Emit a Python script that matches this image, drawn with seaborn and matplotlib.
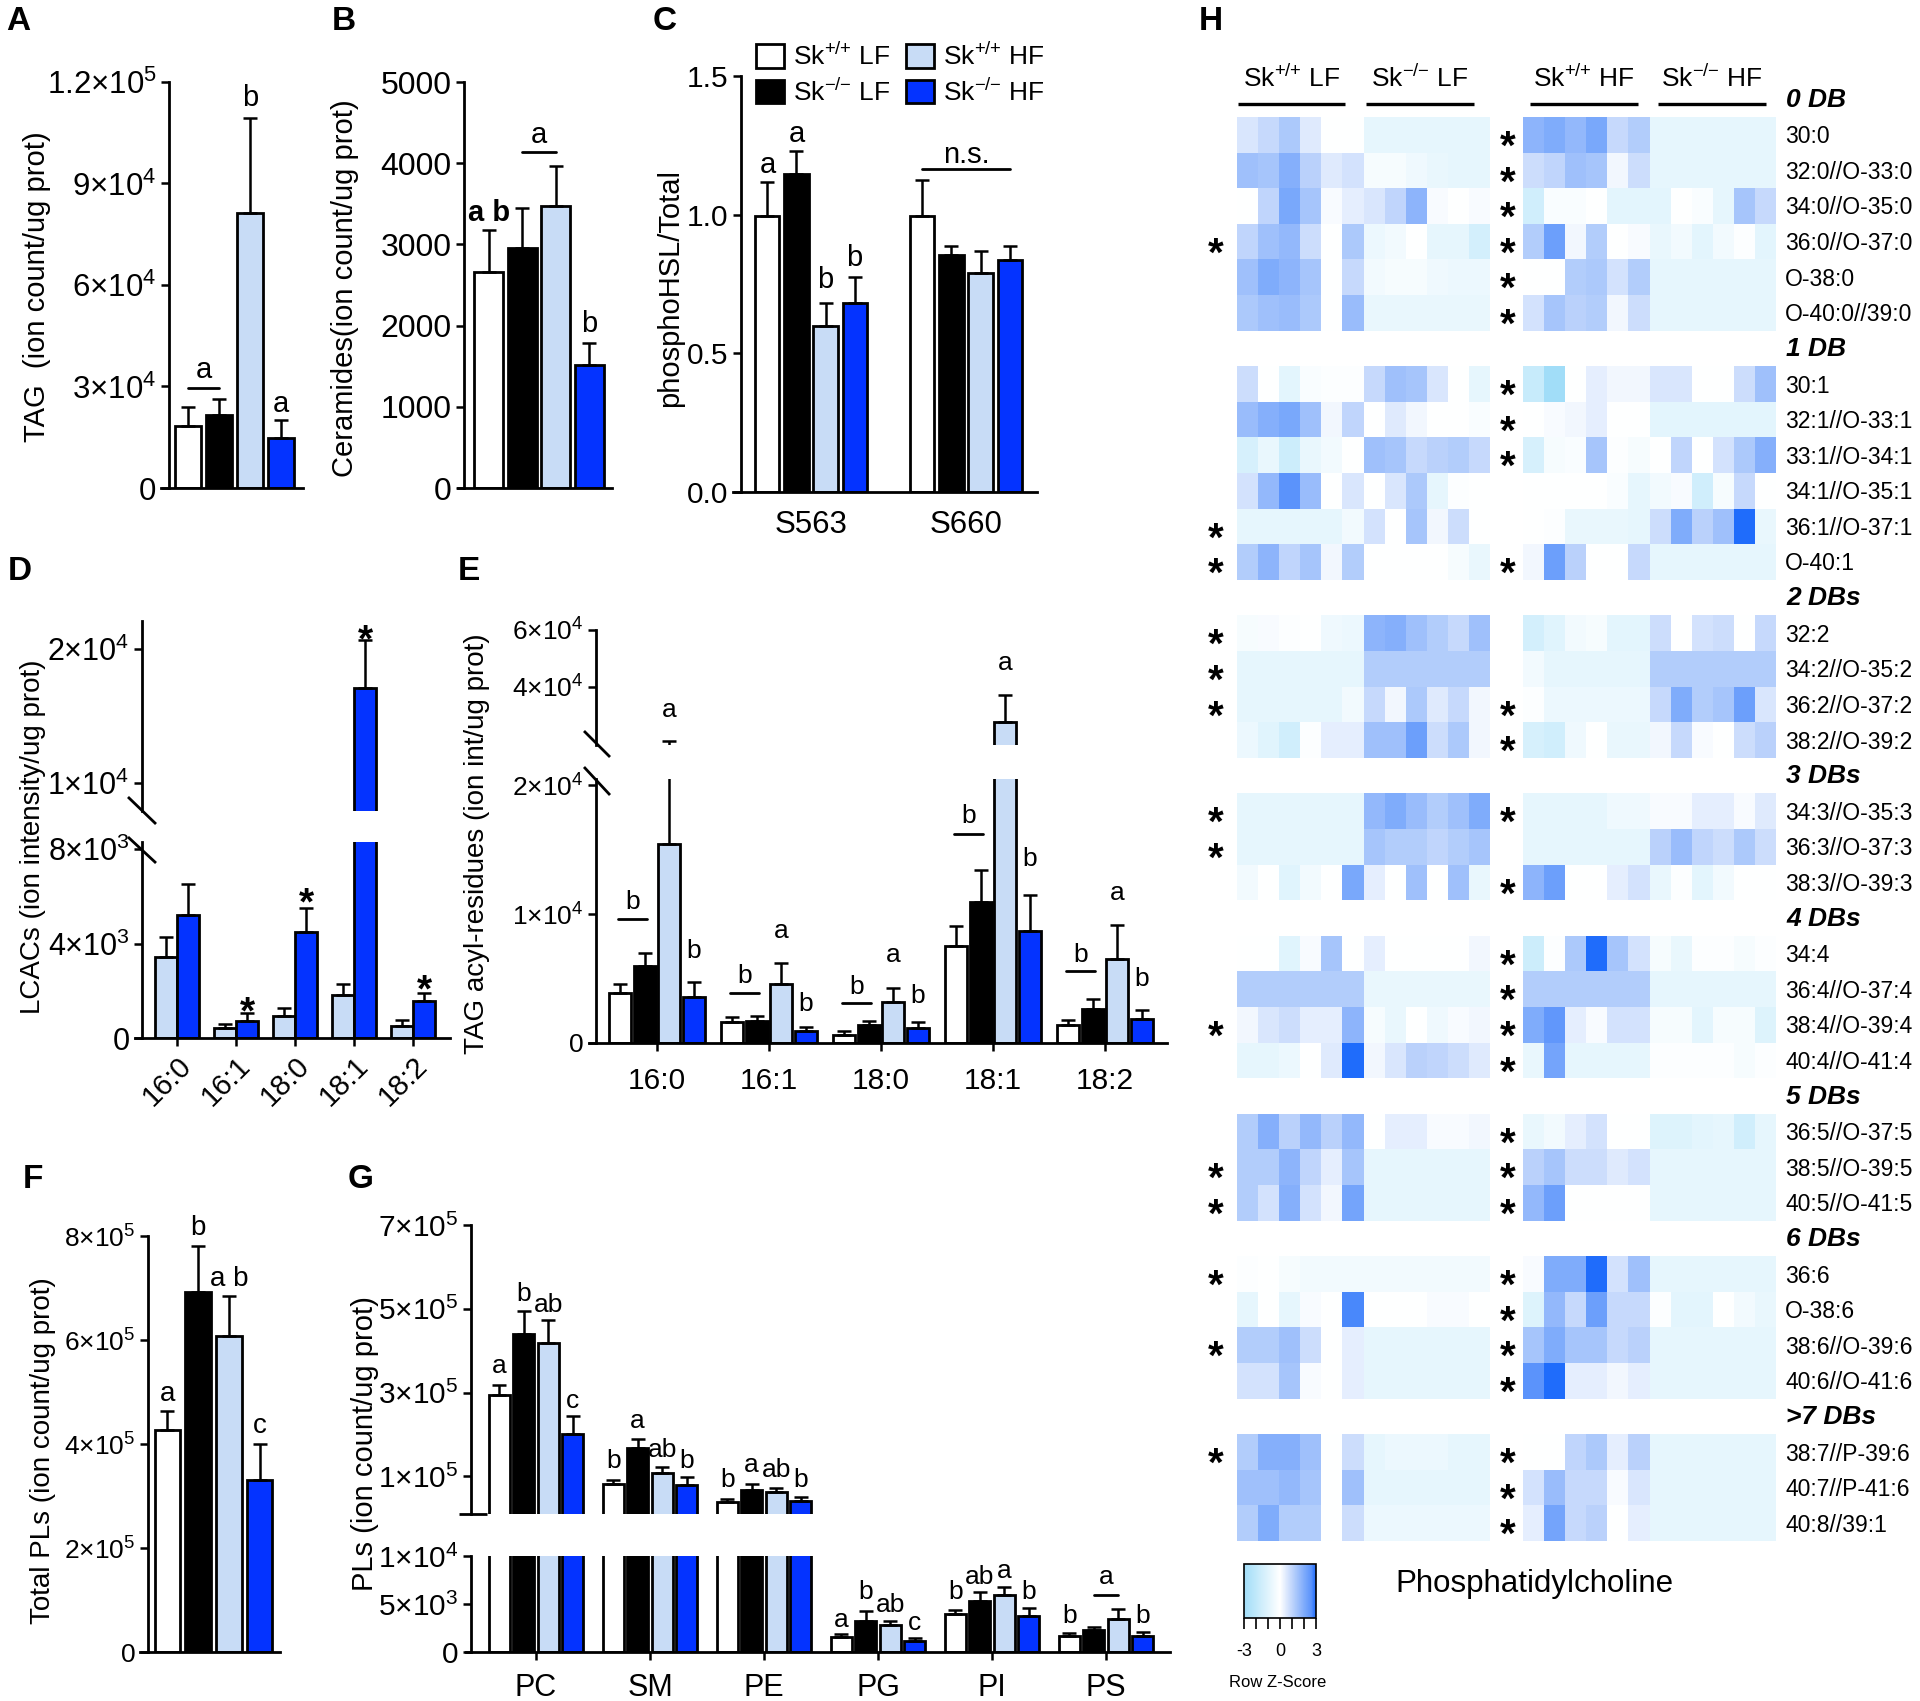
import numpy as np
import pandas as pd
import matplotlib
matplotlib.use("Agg")
import matplotlib.pyplot as plt
import seaborn as sns
from matplotlib.colors import LinearSegmentedColormap, Normalize
from matplotlib.patches import Patch
from matplotlib.lines import Line2D

# ------------------------------------------------------------------ data
GROUPS = ["Sk+/+ LF", "Sk-/- LF", "Sk+/+ HF", "Sk-/- HF"]
GROUP_LABELS = [r"Sk$^{{+}/{+}}$ LF", r"Sk$^{{-}/{-}}$ LF",
                r"Sk$^{{+}/{+}}$ HF", r"Sk$^{{-}/{-}}$ HF"]

# A: TAG
TAG_MEAN = [1.83e4, 2.15e4, 8.12e4, 1.47e4]
TAG_TOP = [2.39e4, 2.62e4, 1.094e5, 2.01e4]
# B: ceramides
CER_MEAN = [2660, 2950, 3475, 1517]
CER_TOP = [3178, 3453, 3962, 1784]
# C: phosphoHSL / total
HSL_SITES = ["S563", "S660"]
HSL_MEAN = [[0.996, 0.996], [1.145, 0.854], [0.599, 0.791], [0.680, 0.838]]
HSL_TOP = [[1.118, 1.124], [1.229, 0.888], [0.680, 0.869], [0.775, 0.888]]
# D: LCACs (HF groups only)
ACYL = ["16:0", "16:1", "18:0", "18:1", "18:2"]
LCAC_MEAN = [[3430, 410, 950, 1840, 500], [5200, 720, 4500, 17070, 1550]]
LCAC_TOP = [[4270, 600, 1280, 2300, 750], [6540, 1060, 5500, 20670, 1890]]
LCAC_STAR = [None, 1580, 6200, 21500, 2500]
# E: TAG acyl residues
TAGAC_MEAN = [[3920, 1620, 640, 7500, 1410], [5970, 1670, 1360, 10970, 2640],
              [15460, 4620, 3150, 27600, 6560], [3590, 920, 1150, 8670, 1870]]
TAGAC_TOP = [[4620, 2050, 900, 9050, 1790], [7000, 2130, 1690, 13400, 3410],
             [20800, 6210, 4260, 37000, 9180], [4770, 1280, 1620, 11500, 2560]]
# F: total PLs
TPL_MEAN = [4.26e5, 6.92e5, 6.08e5, 3.30e5]
TPL_TOP = [4.63e5, 7.81e5, 6.84e5, 4.00e5]
# G: PL classes
PL_CLASSES = ["PC", "SM", "PE", "PG", "PI", "PS"]
PL_MEAN = [[2.94e5, 0.81e5, 0.38e5, 1570, 3920, 1680],
           [4.39e5, 1.67e5, 0.68e5, 3280, 5300, 2240],
           [4.18e5, 1.07e5, 0.62e5, 2800, 5970, 3430],
           [2.01e5, 0.79e5, 0.40e5, 1120, 3800, 1680]]
PL_TOP = [[3.19e5, 0.92e5, 0.47e5, 1870, 4400, 1940],
          [4.95e5, 1.88e5, 0.81e5, 4290, 6270, 2610],
          [4.73e5, 1.22e5, 0.73e5, 3250, 6720, 4480],
          [2.44e5, 0.98e5, 0.51e5, 1490, 4550, 2050]]
PL_LETTERS = [["a", "b", "ab", "c"], ["b", "a", "ab", "b"], ["b", "a", "ab", "b"],
              ["a", "b", "ab", "c"], ["b", "ab", "a", "b"], ["b", "", "", "b"]]
PL_LETTER_Y = [[3.64e5, 5.35e5, 5.10e5, 2.80e5], [1.37e5, 2.31e5, 1.63e5, 1.37e5],
               [0.90e5, 1.28e5, 1.14e5, 0.90e5], [3360, 6200, 4850, 3060],
               [6200, 7800, 8400, 6200], [3700, 0, 0, 3700]]

# H: heatmap (row z-scores), 24 samples: 6 per group
Z_0DB = [
    [0.6, 0.9, 1.3, 0.5, 0.0, 0.0, -0.8, -0.8, -0.8, -0.8, -0.8, -0.8, 1.8, 2.0, 1.7, 2.1, 0.9, 1.2, -0.8, -0.8, -0.8, -0.8, -0.8, -0.8],
    [1.5, 1.4, 1.9, 1.1, 0.5, 0.7, -0.3, -0.3, -0.5, -0.7, -0.8, -0.8, 0.8, 1.0, 1.5, 1.4, 0.2, 0.8, -0.8, -0.8, -0.8, -0.8, -0.8, -0.8],
    [0.0, 1.0, 2.1, 1.4, 0.1, 0.4, 0.6, 1.0, 1.8, 0.1, 0.0, 0.1, -1.5, -0.2, -0.2, 0.0, -0.9, -0.9, -0.9, 0.0, -0.2, -0.8, 1.4, 0.9],
    [1.0, 1.5, 1.7, 0.8, 0.0, 1.3, -0.6, -0.4, 0.0, -0.8, -0.8, -1.4, 1.2, 2.3, 0.2, 1.2, 0.0, 0.1, -0.7, -0.4, -0.9, -0.4, -0.1, -0.9],
    [1.5, 2.0, 1.8, 1.4, 0.0, 0.9, -0.4, -0.3, -0.3, -0.5, -0.6, -0.6, 0.0, 0.0, 1.2, 1.3, 0.7, 1.2, -0.8, -0.8, -0.8, -0.8, -0.8, -0.8],
    [1.3, 1.5, 1.6, 1.3, 0.0, 1.6, -0.7, -0.7, -0.7, -0.7, -0.7, -0.7, 0.7, 1.4, 1.1, 1.2, 0.2, 0.8, -0.8, -0.8, -0.8, -0.8, -0.8, -0.8],
]
Z_1DB = [
    [0.8, 0.0, -0.9, -0.2, -0.1, -0.1, 0.9, 1.5, 1.4, 0.6, 0.0, -0.8, -1.8, -3.0, 0.0, 0.4, 0.2, 0.2, 0.6, 0.6, 0.0, 0.0, 0.8, 1.5],
    [1.6, 1.9, 2.1, 1.5, 0.2, 1.0, 0.0, 0.5, 0.2, 0.0, 0.0, -0.2, 0.0, 0.1, 0.2, 0.4, 0.0, 0.0, -0.9, -0.9, -0.9, -0.9, -0.9, -0.9],
    [-1.3, -0.7, -1.6, -0.7, -0.4, 0.0, 1.5, 1.4, 0.9, 1.1, 1.2, 0.9, -1.3, -0.3, -0.2, 1.4, -0.1, -0.3, 0.0, 1.0, 0.0, 0.7, 1.3, 1.9],
    [0.7, 1.7, 2.6, 1.6, 0.0, 0.6, 0.0, 0.6, 1.3, -0.8, -0.1, 0.0, 0.0, 0.0, 0.0, 0.0, -0.2, -0.8, -0.4, 0.1, -1.5, -0.3, 0.9, 0.0],
    [-0.8, -0.8, -0.8, -0.8, -0.8, -0.4, 0.7, 0.0, 1.4, 0.2, 0.8, 0.0, 0.0, -0.1, -0.7, -0.7, -0.7, -0.8, 0.8, 2.0, 1.1, 1.5, 3.0, -0.7],
    [1.2, 1.8, 1.0, 1.4, 0.2, 1.2, 0.0, 0.0, 0.0, 0.0, -0.3, -0.7, 0.2, 2.3, 1.1, 0.0, 0.0, 0.9, -0.8, -0.8, -0.8, -0.8, -0.8, -0.8],
]
Z_2DB = [
    [-0.3, 0.1, -0.1, 0.0, -0.5, -0.6, 1.8, 1.9, 1.5, 1.2, 0.9, 1.5, -1.4, -1.0, -0.4, -0.3, -0.9, -0.9, 0.8, 0.0, 0.7, 0.8, 0.0, 0.9],
    [-0.8, -0.8, -0.8, -0.8, -0.8, -0.8, 1.2, 1.2, 1.2, 1.2, 1.2, 1.2, -0.4, -0.8, -0.8, -0.8, -0.8, -0.8, 1.2, 1.2, 1.2, 1.2, 1.2, 1.2],
    [-0.8, -0.8, -0.8, -0.8, -0.8, -0.4, 0.9, 0.2, 1.3, 0.5, 0.9, 0.2, -0.1, -0.6, -0.6, -0.6, -0.6, -0.6, 0.9, 2.0, 1.2, 1.4, 2.3, 0.6],
    [-0.6, -1.0, -1.5, -0.1, 0.4, 0.4, 1.5, 1.5, 2.3, 0.8, 1.3, 0.2, -1.3, -1.5, -0.5, 0.0, -0.7, -0.7, 0.2, 0.9, 0.1, 0.0, 0.8, 1.1],
]
Z_3DB = [
    [-0.8, -0.8, -0.8, -0.8, -0.8, -0.8, 1.7, 2.0, 1.6, 1.2, 1.5, 2.0, -0.8, -0.8, -0.8, -0.8, -0.5, -0.5, 0.1, 0.1, 0.4, 0.4, 0.1, 0.5],
    [-0.8, -0.8, -0.8, -0.8, -0.8, -0.8, 1.4, 1.2, 1.2, 1.0, 1.2, 1.4, -0.8, -0.8, -0.8, -0.8, -0.8, -0.8, 1.1, 1.6, 1.0, 0.8, 1.3, 0.8],
    [-0.4, 0.0, -1.0, -0.4, 0.0, 2.1, 0.4, 0.0, 1.5, 0.0, 1.5, -0.7, 1.8, 2.3, 0.0, 0.0, 0.4, 0.7, -0.7, -0.1, -0.9, -0.4, 0.0, 0.0],
]
Z_4DB = [
    [0.0, 0.0, -1.0, 0.1, 1.4, 0.0, 0.4, 0.0, 0.0, 0.0, 0.0, 0.2, -1.6, -0.1, 1.3, 3.0, 1.4, 0.7, -0.3, -0.7, -0.1, -0.1, -0.3, -0.1],
    [1.2, 1.2, 1.2, 1.2, 1.2, 1.2, -0.7, -0.7, -0.7, -0.7, -0.7, -0.7, 1.2, 1.2, 1.2, 1.2, 1.2, 1.2, -0.8, -0.8, -0.8, -0.8, -0.8, -0.8],
    [0.2, 0.6, 0.8, 0.4, 0.4, 1.8, -0.3, -0.7, 0.0, -0.5, 0.1, 0.2, 2.0, 2.5, 0.4, 0.1, 0.7, 0.7, -0.3, -0.3, -0.9, -0.3, -0.3, -1.1],
    [-0.8, -0.8, -0.6, 0.0, 0.5, 3.0, 0.2, 0.6, 1.1, 1.0, 0.8, 0.5, -0.7, 2.2, -0.8, -0.8, -0.8, -0.8, -0.1, -0.1, -0.1, -0.1, -0.3, -0.1],
]
Z_5DB = [
    [1.2, 1.9, 1.1, 1.7, 1.1, 1.7, 0.0, 0.4, 0.4, 0.1, 0.1, 0.2, -0.7, -0.4, 0.4, 0.7, 0.0, 0.0, -1.1, -1.1, -0.9, -0.8, -1.5, -0.8],
    [1.2, 1.2, 1.8, 1.0, 0.4, 1.4, -0.8, -0.8, -0.8, -0.8, -0.8, -0.8, 1.1, 1.4, 0.8, 0.8, 0.5, 0.7, -0.8, -0.8, -0.8, -0.8, -0.8, -0.8],
    [1.2, 0.7, 1.9, 0.7, 0.2, 2.2, -0.8, -0.8, -0.8, -0.8, -0.8, -0.8, 1.7, 2.3, 0.0, 0.0, 0.0, 0.0, -0.8, -0.8, -0.8, -0.8, -0.8, -0.8],
]
Z_6DB = [
    [-0.1, 0.0, -0.3, -0.4, -0.4, -0.4, -0.4, -0.4, -0.4, -0.4, -0.4, -0.4, 0.1, 2.0, 2.0, 3.0, 0.7, 1.5, -0.8, -0.8, -0.8, -0.8, -0.8, -0.8],
    [-0.8, 0.0, -0.8, 0.1, 0.0, 2.7, 0.0, 0.0, 0.0, 0.1, 0.1, 0.0, -1.1, 1.7, 0.9, 2.3, 0.9, 0.9, -0.1, -0.9, -0.9, 0.0, -0.4, -0.7],
    [1.2, 1.2, 1.5, 0.8, 0.0, 0.4, -0.8, -0.8, -0.8, -0.8, -0.8, -0.8, 1.4, 2.0, 1.4, 1.4, 0.9, 1.1, -0.8, -0.8, -0.8, -0.8, -0.8, -0.8],
    [0.7, 0.7, 1.4, 0.1, 0.0, 0.4, -0.8, -0.8, -0.8, -0.8, -0.8, -0.8, 2.6, 3.0, 0.4, 0.4, 0.2, 0.4, -0.8, -0.8, -0.8, -0.8, -0.8, -0.8],
]
Z_7DB = [
    [1.2, 1.9, 1.9, 1.5, 0.0, 0.8, -0.8, -0.6, -0.6, -0.6, -0.8, -0.8, 0.0, 0.0, 1.0, 1.3, 0.4, 1.1, -0.8, -0.8, -0.8, -0.8, -0.8, -0.8],
    [1.5, 1.5, 1.7, 1.4, 0.0, 1.5, -0.8, -0.8, -0.8, -0.8, -0.8, -0.8, 0.7, 1.6, 0.9, 0.9, 0.1, 0.6, -0.8, -0.8, -0.8, -0.8, -0.8, -0.8],
    [1.2, 2.0, 1.2, 1.2, 0.0, 0.8, -0.6, -0.6, -0.6, -0.6, -0.6, -0.6, 0.4, 2.2, 0.9, 1.1, 0.0, 0.4, -0.8, -0.8, -0.8, -0.8, -0.8, -0.8],
]
HM_HEADERS = ["0 DB", "1 DB", "2 DBs", "3 DBs", "4 DBs", "5 DBs", "6 DBs", ">7 DBs"]
HM_ROWS = [
    ["30:0", "32:0//O-33:0", "34:0//O-35:0", "36:0//O-37:0", "O-38:0", "O-40:0//39:0"],
    ["30:1", "32:1//O-33:1", "33:1//O-34:1", "34:1//O-35:1", "36:1//O-37:1", "O-40:1"],
    ["32:2", "34:2//O-35:2", "36:2//O-37:2", "38:2//O-39:2"],
    ["34:3//O-35:3", "36:3//O-37:3", "38:3//O-39:3"],
    ["34:4", "36:4//O-37:4", "38:4//O-39:4", "40:4//O-41:4"],
    ["36:5//O-37:5", "38:5//O-39:5", "40:5//O-41:5"],
    ["36:6", "O-38:6", "38:6//O-39:6", "40:6//O-41:6"],
    ["38:7//P-39:6", "40:7//P-41:6", "40:8//39:1"],
]
HM_Z = [Z_0DB, Z_1DB, Z_2DB, Z_3DB, Z_4DB, Z_5DB, Z_6DB, Z_7DB]
STAR_LF = [[0, 0, 0, 1, 0, 0], [0, 0, 0, 0, 1, 1], [1, 1, 1, 0], [1, 1, 0],
           [0, 0, 1, 0], [0, 1, 1], [1, 0, 1, 0], [1, 0, 0]]
STAR_HF = [[1, 1, 1, 1, 1, 1], [1, 1, 1, 0, 0, 1], [0, 0, 1, 1], [1, 0, 1],
           [1, 1, 1, 1], [1, 1, 1], [1, 1, 1, 1], [1, 1, 1]]

# ------------------------------------------------------------------ style
COLORS = ["#ffffff", "#000000", "#c8dcf6", "#0433ff"]
CMAP = LinearSegmentedColormap.from_list(
    "zs", [(0.0, "#a1ddf8"), (0.5, "#ffffff"), (0.7, "#b3cdfb"),
           (0.8333, "#80acfb"), (0.9333, "#5b93fb"), (1.0, "#1f6cfb")])

sns.set_theme(style="ticks", rc={
    "axes.edgecolor": "black", "xtick.color": "black", "ytick.color": "black",
    "text.color": "black", "axes.labelcolor": "black",
    "figure.facecolor": "white", "savefig.facecolor": "white"})
plt.rcParams["font.family"] = ["Liberation Sans", "DejaVu Sans"]
plt.rcParams["mathtext.fontset"] = "custom"
plt.rcParams["mathtext.rm"] = "Liberation Sans"
plt.rcParams["mathtext.it"] = "Liberation Sans:italic"
plt.rcParams["mathtext.bf"] = "Liberation Sans:bold"
plt.rcParams["mathtext.default"] = "regular"

W, H = 1920, 1701
fig = plt.figure(figsize=(W / 100, H / 100), dpi=100)


def fx(x):
    return x / W


def fy(y):
    return 1 - y / H


def rect(x0, y0, x1, y1):
    return [x0 / W, 1 - y1 / H, (x1 - x0) / W, (y1 - y0) / H]


def sci(m, e):
    return r"$%s{\times}10^{%d}$" % (m, e)


def fig_line(x0, y0, x1, y1, lw=2.0):
    fig.add_artist(Line2D([fx(x0), fx(x1)], [fy(y0), fy(y1)], transform=fig.transFigure,
                          color="black", lw=lw, solid_capstyle="butt"))


def draw_bars(ax, cats, means, groups, colors, width, gap):
    recs = []
    for g, vals in zip(groups, means):
        for c, v in zip(cats, vals):
            recs.append((c, g, v))
    df = pd.DataFrame(recs, columns=["cat", "grp", "val"])
    sns.barplot(data=df, x="cat", y="val", hue="grp", order=cats, hue_order=groups,
                palette=dict(zip(groups, colors)), saturation=1, errorbar=None,
                width=width, gap=gap, edgecolor="black", linewidth=2.0,
                legend=False, ax=ax)
    return [[p.get_x() + p.get_width() / 2 for p in cont.patches] for cont in ax.containers]


def draw_err(ax, centers, means, tops, floor=None):
    for xs, ms, ts in zip(centers, means, tops):
        for x, m, t in zip(xs, ms, ts):
            if floor is not None and t <= floor:
                continue
            ax.errorbar([x], [m], yerr=[[0], [t - m]], fmt="none", ecolor="black",
                        elinewidth=1.8, capsize=5, capthick=1.8, zorder=4)


def style(ax, x0, x1, spine_x, bottom=True, ysize=19):
    ax.patch.set_visible(False)
    ax.grid(False)
    ax.spines["top"].set_visible(False)
    ax.spines["right"].set_visible(False)
    ax.spines["left"].set_position(("axes", (spine_x - x0) / (x1 - x0)))
    for s in ["left", "bottom"]:
        ax.spines[s].set_linewidth(2.0)
        ax.spines[s].set_color("black")
    if not bottom:
        ax.spines["bottom"].set_visible(False)
        ax.tick_params(axis="x", bottom=False, labelbottom=False)
    ax.tick_params(axis="y", direction="out", length=6, width=1.8, labelsize=ysize, pad=3)
    ax.tick_params(axis="x", direction="out", length=6, width=1.8, labelsize=20)
    ax.set_xlabel("")
    ax.set_ylabel("")


def xlim_px(ax, x0, x1, ref_px, ref_val, ppu):
    ax.set_xlim(ref_val - (ref_px - x0) / ppu, ref_val + (x1 - ref_px) / ppu)


def lab(ax, x, y, s, size=20, weight="normal"):
    ax.text(x, y, s, ha="center", va="center", fontsize=size, fontweight=weight, clip_on=False)


def star_ax(ax, x, y, size=28):
    ax.annotate("*", (x, y), xytext=(0, -0.32 * size), textcoords="offset points",
                ha="center", va="center", fontsize=size, fontweight="bold", annotation_clip=False)


def star_fig(x, y, size=29):
    fig.text(fx(x), fy(y + 0.32 * size * 100 / 72), "*", ha="center", va="center",
             fontsize=size, fontweight="bold")


def ylab(x, y, s, size=20):
    fig.text(fx(x), fy(y), s, rotation=90, ha="center", va="center", fontsize=size)


def single(v):
    return [[a] for a in v]


# ------------------------------------------------------------------ A
axA = fig.add_axes(rect(161, 82, 303, 488))
cA = draw_bars(axA, ["all"], single(TAG_MEAN), GROUPS, COLORS, 0.8, 0.16)
draw_err(axA, cA, single(TAG_MEAN), single(TAG_TOP))
style(axA, 161, 303, 169, ysize=22.5)
xlim_px(axA, 161, 303, 234.5, 0, 155)
axA.set_ylim(0, 1.2e5)
axA.set_yticks([0, 3e4, 6e4, 9e4, 1.2e5])
axA.set_yticklabels(["0", sci("3", 4), sci("6", 4), sci("9", 4), sci("1.2", 5)])
axA.set_xticks([])
axA.plot([cA[0][0], cA[1][0]], [2.96e4, 2.96e4], color="black", lw=2, clip_on=False)
lab(axA, (cA[0][0] + cA[1][0]) / 2, 3.49e4, "a", size=21)
lab(axA, cA[2][0], 1.152e5, "b", size=21)
lab(axA, cA[3][0], 2.47e4, "a", size=21)
ylab(37, 287, "TAG  (ion count/ug prot)", size=21)

# ------------------------------------------------------------------ B
axB = fig.add_axes(rect(458, 82, 612, 488))
cB = draw_bars(axB, ["all"], single(CER_MEAN), GROUPS, COLORS, 0.8, 0.14)
draw_err(axB, cB, single(CER_MEAN), single(CER_TOP))
style(axB, 458, 612, 464, ysize=23)
xlim_px(axB, 458, 612, 539, 0, 168)
axB.set_ylim(0, 5000)
axB.set_yticks([0, 1000, 2000, 3000, 4000, 5000])
axB.set_xticks([])
lab(axB, cB[0][0], 3381, "a b", size=21, weight="bold")
axB.plot([cB[1][0], cB[2][0]], [4144, 4144], color="black", lw=2, clip_on=False)
lab(axB, (cB[1][0] + cB[2][0]) / 2, 4347, "a", size=21)
lab(axB, cB[3][0], 2025, "b", size=21)
ylab(345, 288, "Ceramides(ion count/ug prot)", size=21)

# ------------------------------------------------------------------ C
axC = fig.add_axes(rect(733, 76, 1037, 492))
cC = draw_bars(axC, HSL_SITES, HSL_MEAN, GROUPS, COLORS, 0.75, 0.17)
draw_err(axC, cC, HSL_MEAN, HSL_TOP)
style(axC, 733, 1037, 741, ysize=21.5)
xlim_px(axC, 733, 1037, 811, 0, 155)
axC.set_ylim(0, 1.5)
axC.set_yticks([0, 0.5, 1.0, 1.5])
axC.set_yticklabels(["0.0", "0.5", "1.0", "1.5"])
axC.set_xticks([0, 1])
axC.set_xticklabels(HSL_SITES, fontsize=22.5)
axC.tick_params(axis="x", length=0, pad=13)
for g, yy in zip(range(4), [1.18, 1.29, 0.764, 0.842]):
    lab(axC, cC[g][0], yy, ["a", "a", "b", "b"][g], size=21)
axC.plot([cC[0][1], cC[3][1]], [1.165, 1.165], color="black", lw=2, clip_on=False)
lab(axC, (cC[0][1] + cC[3][1]) / 2, 1.215, "n.s.", size=21)
ylab(670, 288, "phosphoHSL/Total", size=21)
handles = [Patch(facecolor=c, edgecolor="black", linewidth=2) for c in COLORS]
fig.legend(handles, GROUP_LABELS, ncol=2, loc="upper left",
           bbox_to_anchor=(fx(756), fy(43)), bbox_transform=fig.transFigure,
           frameon=False, fontsize=19, handlelength=1.05, handleheight=1.0,
           handletextpad=0.35, columnspacing=0.6, labelspacing=0.32,
           borderaxespad=0, borderpad=0)

# ------------------------------------------------------------------ D
axDl = fig.add_axes(rect(135, 842, 450, 1038))
axDu = fig.add_axes(rect(135, 621, 450, 811))
for ax, bottom, floor in [(axDl, True, None), (axDu, False, 7900)]:
    cD = draw_bars(ax, ACYL, LCAC_MEAN, GROUPS[2:], COLORS[2:], 0.75, 0.045)
    draw_err(ax, cD, LCAC_MEAN, LCAC_TOP, floor=floor)
    style(ax, 135, 450, 142, bottom=bottom, ysize=22)
    xlim_px(ax, 135, 450, 177, 0, 59)
axDl.set_ylim(0, 8300)
axDl.set_yticks([0, 4000, 8000])
axDl.set_yticklabels(["0", sci(4, 3), sci(8, 3)])
axDu.set_ylim(7900, 22100)
axDu.set_yticks([1e4, 2e4])
axDu.set_yticklabels([sci(1, 4), sci(2, 4)])
axDl.set_xticks(range(5))
axDl.set_xticklabels(ACYL, rotation=45, ha="right", rotation_mode="anchor", fontsize=21)
for i, s in enumerate(LCAC_STAR):
    if s is None:
        continue
    star_ax(axDu if s > 8300 else axDl, cD[1][i], s)
fig_line(128, 797, 156, 824)
fig_line(128, 837, 156, 863)
ylab(33, 837, "LCACs (ion intensity/ug prot)")

# ------------------------------------------------------------------ E
axEl = fig.add_axes(rect(589, 779, 1167, 1043))
axEu = fig.add_axes(rect(589, 630, 1167, 745))
for ax, bottom, floor in [(axEl, True, None), (axEu, False, 19500)]:
    cE = draw_bars(ax, ACYL, TAGAC_MEAN, GROUPS, COLORS, 0.875, 0.12)
    draw_err(ax, cE, TAGAC_MEAN, TAGAC_TOP, floor=floor)
    style(ax, 589, 1167, 596, bottom=bottom)
    xlim_px(ax, 589, 1167, 657, 0, 112)
axEl.set_ylim(0, 20500)
axEl.set_yticks([0, 1e4, 2e4])
axEl.set_yticklabels(["0", sci(1, 4), sci(2, 4)])
axEu.set_ylim(19500, 60000)
axEu.set_yticks([4e4, 6e4])
axEu.set_yticklabels([sci(4, 4), sci(6, 4)])
axEl.set_xticks(range(5))
axEl.set_xticklabels(ACYL, fontsize=21.5)
axEl.tick_params(axis="x", pad=11)
E_LINE_Y = [9620, 3920, 3080, 16230, 5590]
E_LINE_TXT_Y = [10970, 5200, 4310, 17640, 6870]
E_A_Y = [32000, 8670, 6870, 48500, 11620]
E_B_Y = [7130, 3030, 3670, 14310, 4950]
for i in range(5):
    axEl.plot([cE[0][i] - 0.02, cE[1][i] + 0.02], [E_LINE_Y[i]] * 2, color="black", lw=2)
    lab(axEl, (cE[0][i] + cE[1][i]) / 2, E_LINE_TXT_Y[i], "b", size=19)
    lab(axEu if E_A_Y[i] > 20500 else axEl, cE[2][i], E_A_Y[i], "a", size=19)
    lab(axEl, cE[3][i], E_B_Y[i], "b", size=19)
fig_line(584, 731, 610, 757)
fig_line(584, 767, 610, 795)
ylab(477, 844, "TAG acyl-residues (ion int/ug prot)")

# ------------------------------------------------------------------ F
axF = fig.add_axes(rect(140, 1236, 280, 1652))
cF = draw_bars(axF, ["all"], single(TPL_MEAN), GROUPS, COLORS, 0.8, 0.17)
draw_err(axF, cF, single(TPL_MEAN), single(TPL_TOP))
style(axF, 140, 280, 148)
xlim_px(axF, 140, 280, 213.5, 0, 153.5)
axF.set_ylim(0, 8e5)
axF.set_yticks([0, 2e5, 4e5, 6e5, 8e5])
axF.set_yticklabels(["0", sci(2, 5), sci(4, 5), sci(6, 5), sci(8, 5)])
axF.set_xticks([])
for g, (s, yy) in enumerate(zip(["a", "b", "a b", "c"], [4.97e5, 8.15e5, 7.17e5, 4.34e5])):
    lab(axF, cF[g][0], yy, s)
ylab(43, 1451, "Total PLs (ion count/ug prot)")

# ------------------------------------------------------------------ G
axGl = fig.add_axes(rect(466, 1556, 1170, 1652))
axGu = fig.add_axes(rect(466, 1225, 1170, 1514))
for ax, bottom, floor in [(axGl, True, None), (axGu, False, 1e4)]:
    cG = draw_bars(ax, PL_CLASSES, PL_MEAN, GROUPS, COLORS, 0.86, 0.14)
    draw_err(ax, cG, PL_MEAN, PL_TOP, floor=floor)
    style(ax, 466, 1170, 471, bottom=bottom, ysize=21.5)
    xlim_px(ax, 466, 1170, 536, 0, 114)
axGl.set_ylim(0, 1e4)
axGl.set_yticks([0, 5e3, 1e4])
axGl.set_yticklabels(["0", sci(5, 3), sci(1, 4)])
axGu.set_ylim(1e4, 7e5)
axGu.set_yticks([1e5, 3e5, 5e5, 7e5])
axGu.set_yticklabels([sci(1, 5), sci(3, 5), sci(5, 5), sci(7, 5)])
axGl.set_xticks(range(6))
axGl.set_xticklabels(PL_CLASSES, fontsize=22)
axGl.tick_params(axis="x", pad=9)
for i in range(6):
    for g in range(4):
        s = PL_LETTERS[i][g]
        if not s:
            continue
        yy = PL_LETTER_Y[i][g]
        lab(axGu if i < 3 else axGl, cG[g][i], yy, s, size=19)
axGl.plot([cG[1][5], cG[2][5]], [5900, 5900], color="black", lw=2, clip_on=False)
lab(axGl, (cG[1][5] + cG[2][5]) / 2, 7800, "a", size=19)
fig_line(459, 1514, 487, 1514)
ylab(365, 1444, "PLs (ion count/ug prot)", size=21)

# ------------------------------------------------------------------ H heatmap
RH = 35.6
y = 117.0
for gi, (hdr, rows, Z) in enumerate(zip(HM_HEADERS, HM_ROWS, HM_Z)):
    Z = np.array(Z)
    n = len(rows)
    for x0, x1, sl in [(1237, 1490, slice(0, 12)), (1523, 1776, slice(12, 24))]:
        axh = fig.add_axes(rect(x0, y, x1, y + n * RH))
        sns.heatmap(Z[:, sl], ax=axh, cmap=CMAP, vmin=-3, vmax=3, cbar=False,
                    xticklabels=False, yticklabels=False)
    fig.text(fx(1786), fy(y - 17), hdr, fontsize=19, fontweight="bold",
             fontstyle="italic", ha="left", va="center")
    for i, r in enumerate(rows):
        yc = y + (i + 0.5) * RH
        fig.text(fx(1785), fy(yc + 2), r, fontsize=16.5, ha="left", va="center")
        if STAR_LF[gi][i]:
            star_fig(1216, yc)
        if STAR_HF[gi][i]:
            star_fig(1508, yc)
    y += (n + 1) * RH

for (xa, xb), lbl in zip([(1238, 1345), (1366, 1474), (1530, 1638), (1658, 1766)], GROUP_LABELS):
    fig_line(xa, 104, xb, 104, lw=2.4)
    fig.text(fx((xa + xb) / 2), fy(78), lbl, fontsize=19, ha="center", va="center")

cax = fig.add_axes(rect(1244, 1564, 1316, 1618))
sm = plt.cm.ScalarMappable(cmap=CMAP, norm=Normalize(-3, 3))
cb = fig.colorbar(sm, cax=cax, orientation="horizontal", ticks=[-3, -2, -1, 0, 1, 2, 3])
cb.ax.set_xticklabels(["-3", "", "", "0", "", "", "3"], fontsize=13)
cb.ax.tick_params(length=8, width=1.2, pad=10)
cb.outline.set_linewidth(1.2)
fig.text(fx(1278), fy(1682), "Row Z-Score", fontsize=12, ha="center", va="center")
fig.text(fx(1534), fy(1584), "Phosphatidylcholine", fontsize=22.5, ha="center", va="center")

# ------------------------------------------------------------------ panel letters
for s, (x, yy) in zip("ABCDEFGH", [(18, 21), (344, 21), (665, 21), (20, 571), (469, 571),
                                   (33, 1179), (361, 1179), (1211, 21)]):
    fig.text(fx(x), fy(yy), s, fontsize=24, fontweight="bold", ha="center", va="center")

fig.savefig("out.png", dpi=100)
